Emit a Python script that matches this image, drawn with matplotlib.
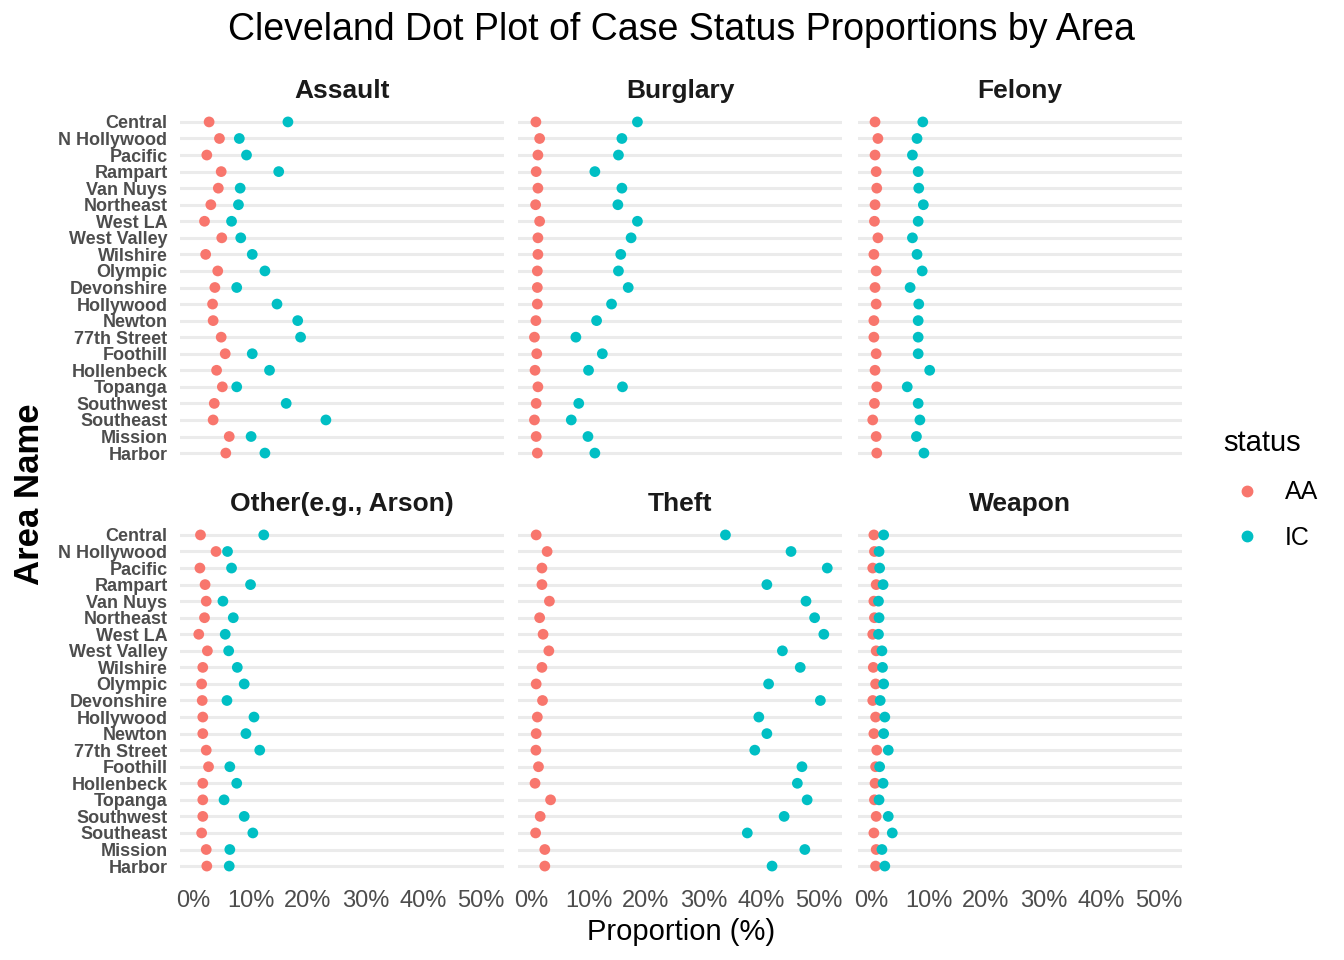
import matplotlib
matplotlib.use("Agg")
import matplotlib.pyplot as plt
from matplotlib.lines import Line2D

plt.rcParams["font.family"] = ["Liberation Sans", "DejaVu Sans"]

areas = ["Central", "N Hollywood", "Pacific", "Rampart", "Van Nuys", "Northeast",
	"West LA", "West Valley", "Wilshire", "Olympic", "Devonshire", "Hollywood",
	"Newton", "77th Street", "Foothill", "Hollenbeck", "Topanga", "Southwest",
	"Southeast", "Mission", "Harbor"]

crimes = ["Assault", "Burglary", "Felony", "Other(e.g., Arson)", "Theft", "Weapon"]

# proportions in %, same order as areas
assault_aa = [2.8, 4.6, 2.4, 4.9, 4.4, 3.1, 2.0, 5.0, 2.2, 4.3, 3.8, 3.4, 3.5, 4.9, 5.6, 4.1, 5.1, 3.7, 3.5, 6.3, 5.7]
assault_ic = [16.5, 8.05, 9.3, 14.9, 8.2, 7.9, 6.7, 8.3, 10.3, 12.5, 7.6, 14.6, 18.2, 18.7, 10.3, 13.3, 7.6, 16.2, 23.1, 10.1, 12.5]
burglary_aa = [0.85, 1.5, 1.2, 0.9, 1.2, 0.8, 1.5, 1.2, 1.2, 1.1, 1.1, 1.1, 0.85, 0.6, 1.0, 0.7, 1.2, 0.9, 0.6, 0.9, 1.1]
burglary_ic = [18.5, 15.8, 15.2, 11.1, 15.8, 15.1, 18.5, 17.4, 15.6, 15.2, 16.9, 14.0, 11.4, 7.8, 12.4, 10.0, 15.9, 8.3, 7.0, 9.9, 11.1]
felony_aa = [0.7, 1.2, 0.7, 0.9, 1.0, 0.7, 0.6, 1.2, 0.5, 0.9, 0.7, 0.9, 0.5, 0.5, 0.9, 0.7, 1.0, 0.6, 0.3, 0.9, 1.0]
felony_ic = [9.0, 8.0, 7.2, 8.2, 8.3, 9.1, 8.2, 7.2, 8.0, 8.9, 6.8, 8.3, 8.2, 8.2, 8.2, 10.2, 6.3, 8.2, 8.5, 7.9, 9.2]
other_aa = [1.3, 4.0, 1.2, 2.1, 2.3, 2.0, 1.0, 2.5, 1.7, 1.5, 1.6, 1.7, 1.7, 2.3, 2.7, 1.7, 1.7, 1.7, 1.5, 2.3, 2.4]
other_ic = [12.3, 6.0, 6.7, 10.0, 5.2, 7.0, 5.6, 6.2, 7.7, 8.9, 5.9, 10.6, 9.2, 11.6, 6.4, 7.6, 5.4, 8.9, 10.4, 6.4, 6.3]
theft_aa = [0.9, 2.8, 1.9, 1.9, 3.2, 1.5, 2.1, 3.1, 1.9, 0.9, 2.0, 1.1, 0.9, 0.85, 1.3, 0.7, 3.4, 1.6, 0.8, 2.4, 2.4]
theft_ic = [33.8, 45.2, 51.5, 41.0, 47.8, 49.3, 50.9, 43.7, 46.8, 41.3, 50.3, 39.6, 41.0, 38.9, 47.1, 46.3, 48.0, 44.0, 37.6, 47.6, 41.9]
weapon_aa = [0.5, 0.6, 0.3, 0.9, 0.5, 0.6, 0.3, 0.9, 0.4, 0.8, 0.3, 0.8, 0.5, 1.0, 0.8, 0.7, 0.6, 0.9, 0.5, 0.9, 0.8]
weapon_ic = [2.2, 1.4, 1.5, 2.1, 1.3, 1.4, 1.3, 1.9, 2.0, 2.2, 1.6, 2.4, 2.2, 3.0, 1.5, 2.1, 1.4, 3.0, 3.7, 1.9, 2.4]

aa_values = [assault_aa, burglary_aa, felony_aa, other_aa, theft_aa, weapon_aa]
ic_values = [assault_ic, burglary_ic, felony_ic, other_ic, theft_ic, weapon_ic]

x_ticks = [0, 10, 20, 30, 40, 50]
x_tick_labels = ["0%", "10%", "20%", "30%", "40%", "50%"]

aa_color = "#F8766D"
ic_color = "#00BFC4"
W, H = 1344, 960

fig = plt.figure(figsize=(W / 100, H / 100), dpi=100)

# ggplot-style 5% expansion on the shared x scale
all_vals = [v for s in aa_values + ic_values for v in s]
lo, hi = min(all_vals), max(all_vals)
pad = 0.05 * (hi - lo)

col_left = [180, 518, 858]
col_width = 324
row_top = [112, 525]
row_height = 351

ypos = list(range(len(areas)))

for i, crime in enumerate(crimes):
	r, c = divmod(i, 3)
	ax = fig.add_axes([col_left[c] / W, 1 - (row_top[r] + row_height) / H, col_width / W, row_height / H])
	for y in ypos:
		ax.axhline(y, color="#EBEBEB", lw=2.2, zorder=0)
	ax.scatter(aa_values[i], ypos, s=60, color=aa_color, edgecolors="none", zorder=3)
	ax.scatter(ic_values[i], ypos, s=60, color=ic_color, edgecolors="none", zorder=3)
	ax.set_xlim(lo - pad, hi + pad)
	ax.set_ylim(len(areas) - 0.4, -0.6)
	ax.set_xticks(x_ticks)
	ax.set_yticks(ypos)
	if r == 1:
		ax.set_xticklabels(x_tick_labels, fontsize=17, color="#4D4D4D")
	else:
		ax.set_xticklabels([])
	if c == 0:
		ax.set_yticklabels(areas, fontsize=13, fontweight="bold", color="#4D4D4D")
	else:
		ax.set_yticklabels([])
	ax.tick_params(axis="y", length=0, pad=9)
	ax.tick_params(axis="x", length=0, pad=10)
	for s in ax.spines.values():
		s.set_visible(False)
	ax.set_title(crime, fontsize=19, fontweight="bold", color="#1A1A1A", pad=10)

fig.text(681 / W, 1 - 30 / H, "Cleveland Dot Plot of Case Status Proportions by Area",
	ha="center", va="center", fontsize=27)
fig.text(681 / W, 1 - 932 / H, "Proportion (%)", ha="center", va="center", fontsize=21)
fig.text(30 / W, 1 - 494 / H, "Area Name", ha="center", va="center", rotation=90,
	fontsize=25, fontweight="bold")

# legend: title placed on its own so it sits left of the keys like ggplot
fig.text(1223 / W, 1 - 443 / H, "status", ha="left", va="center", fontsize=21)
handles = [Line2D([], [], marker="o", ls="none", color=aa_color, markersize=7.5),
	Line2D([], [], marker="o", ls="none", color=ic_color, markersize=7.5)]
leg = fig.legend(handles, ["AA", "IC"], loc="center left",
	bbox_to_anchor=(1212 / W, 1 - 515 / H), frameon=False, fontsize=18,
	labelspacing=0.85, handlelength=1.0, handletextpad=1.0)

fig.savefig("out.png", dpi=100)
